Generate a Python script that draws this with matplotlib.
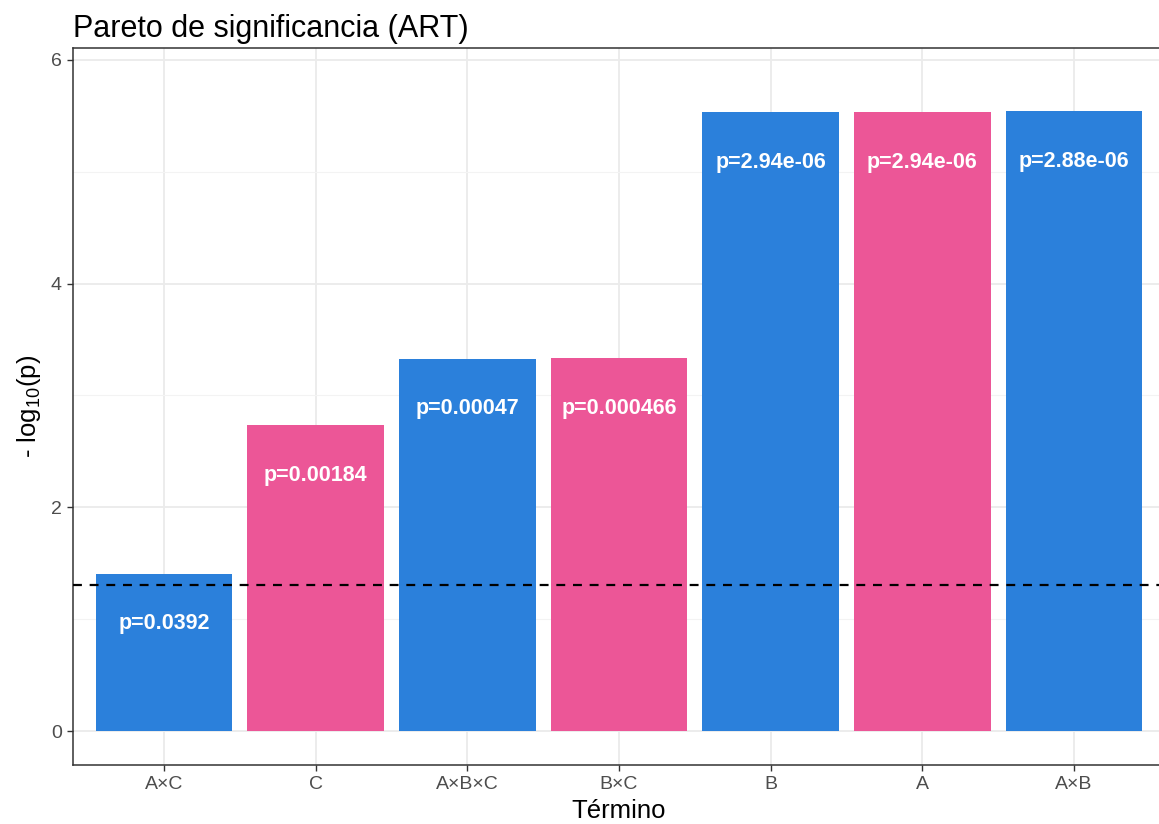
import numpy as np
import matplotlib
matplotlib.use('Agg')
import matplotlib.pyplot as plt
from matplotlib.ticker import MultipleLocator

plt.rcParams['font.family'] = ['Liberation Sans', 'DejaVu Sans']
plt.rcParams['mathtext.fontset'] = 'custom'
plt.rcParams['mathtext.rm'] = 'Liberation Sans'

terms = ['A×C', 'C', 'A×B×C', 'B×C', 'B', 'A', 'A×B']
p_values = [0.0392, 0.00184, 0.00047, 0.000466, 2.94e-06, 2.94e-06, 2.88e-06]
p_labels = ['p=0.0392', 'p=0.00184', 'p=0.00047', 'p=0.000466',
            'p=2.94e-06', 'p=2.94e-06', 'p=2.88e-06']
bar_colors = ['#2B80DB', '#EC5697', '#2B80DB', '#EC5697', '#2B80DB', '#EC5697', '#2B80DB']
alpha = 0.05

heights = -np.log10(p_values)
x = np.arange(len(terms))

fig = plt.figure(figsize=(11.59, 8.24), dpi=100)
ax = fig.add_axes([73 / 1159, 59 / 824, 1092 / 1159, 717 / 824])

ax.bar(x, heights, width=0.9, color=bar_colors, zorder=2)
for xi, h, lab in zip(x, heights, p_labels):
    ax.annotate(lab, (xi, h), xytext=(0, -36), textcoords='offset points',
                ha='center', va='center', color='white', fontsize=15.5,
                fontweight='bold', zorder=3)
ax.axhline(-np.log10(alpha), color='black', lw=1.6, ls=(0, (4, 3.5)), zorder=4)

ax.set_xlim(-0.6, 6.6)
ax.set_ylim(-0.304, 6.107)
ax.set_xticks(x)
ax.set_xticklabels(terms)
ax.yaxis.set_major_locator(MultipleLocator(2))
ax.yaxis.set_minor_locator(MultipleLocator(1))
ax.grid(which='major', color='#EBEBEB', lw=1.3, zorder=0)
ax.grid(which='minor', axis='y', color='#F3F3F3', lw=0.8, zorder=0)
ax.set_axisbelow(True)
ax.tick_params(which='major', length=4, width=1, color='#333333',
               labelsize=14, labelcolor='#4D4D4D', pad=4)
ax.tick_params(which='minor', length=0)
for s in ax.spines.values():
    s.set_color('#333333')
    s.set_linewidth(1.1)

ax.set_xlabel('Término', fontsize=18.5, labelpad=4)
ax.set_ylabel('- log$_{\\mathregular{10}}$(p)', fontsize=18.5, labelpad=6)
ax.set_title('Pareto de significancia (ART)', fontsize=22, loc='left', pad=8)

fig.savefig('out.png', dpi=100)
